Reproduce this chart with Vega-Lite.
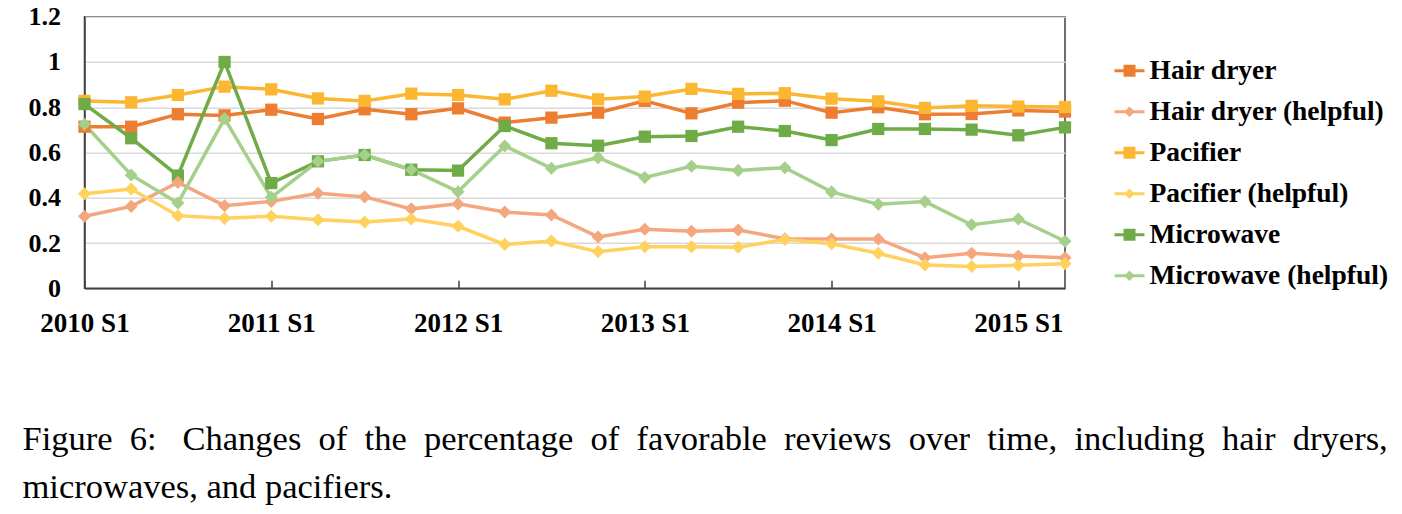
{
  "$schema": "https://vega.github.io/schema/vega-lite/v6.json",
  "width": 980.5,
  "height": 271.6,
  "autosize": "none",
  "padding": {"left": 84.5, "top": 16.7, "right": 337, "bottom": 225.7},
  "background": "white",
  "config": {
    "view": {"stroke": "#404040", "strokeWidth": 1.5},
    "font": "Liberation Serif"
  },
  "title": {
    "text": ["Figure\u00a0 6:\u00a0\u00a0 Changes\u00a0 of\u00a0 the\u00a0 percentage\u00a0 of\u00a0 favorable\u00a0 reviews\u00a0 over\u00a0 time,\u00a0 including\u00a0 hair\u00a0 dryers,", "microwaves, and pacifiers."],
    "orient": "bottom",
    "anchor": "start",
    "frame": "group",
    "font": "Liberation Serif",
    "fontSize": 34.5,
    "fontWeight": "normal",
    "lineHeight": 48,
    "color": "#000",
    "dx": -62,
    "offset": 87
  },
  "resolve": {"legend": {"color": "independent", "shape": "independent"}},
  "data": {"values": [
    {"period":"2010 S1","series":"Hair dryer","value":0.714},
    {"period":"2010 S2","series":"Hair dryer","value":0.714},
    {"period":"2010 S3","series":"Hair dryer","value":0.769},
    {"period":"2010 S4","series":"Hair dryer","value":0.764},
    {"period":"2011 S1","series":"Hair dryer","value":0.789},
    {"period":"2011 S2","series":"Hair dryer","value":0.748},
    {"period":"2011 S3","series":"Hair dryer","value":0.791},
    {"period":"2011 S4","series":"Hair dryer","value":0.769},
    {"period":"2012 S1","series":"Hair dryer","value":0.795},
    {"period":"2012 S2","series":"Hair dryer","value":0.732},
    {"period":"2012 S3","series":"Hair dryer","value":0.754},
    {"period":"2012 S4","series":"Hair dryer","value":0.776},
    {"period":"2013 S1","series":"Hair dryer","value":0.828},
    {"period":"2013 S2","series":"Hair dryer","value":0.773},
    {"period":"2013 S3","series":"Hair dryer","value":0.820},
    {"period":"2013 S4","series":"Hair dryer","value":0.829},
    {"period":"2014 S1","series":"Hair dryer","value":0.776},
    {"period":"2014 S2","series":"Hair dryer","value":0.800},
    {"period":"2014 S3","series":"Hair dryer","value":0.769},
    {"period":"2014 S4","series":"Hair dryer","value":0.770},
    {"period":"2015 S1","series":"Hair dryer","value":0.786},
    {"period":"2015 S2","series":"Hair dryer","value":0.781},
    {"period":"2010 S1","series":"Hair dryer (helpful)","value":0.318},
    {"period":"2010 S2","series":"Hair dryer (helpful)","value":0.362},
    {"period":"2010 S3","series":"Hair dryer (helpful)","value":0.468},
    {"period":"2010 S4","series":"Hair dryer (helpful)","value":0.365},
    {"period":"2011 S1","series":"Hair dryer (helpful)","value":0.384},
    {"period":"2011 S2","series":"Hair dryer (helpful)","value":0.420},
    {"period":"2011 S3","series":"Hair dryer (helpful)","value":0.404},
    {"period":"2011 S4","series":"Hair dryer (helpful)","value":0.351},
    {"period":"2012 S1","series":"Hair dryer (helpful)","value":0.373},
    {"period":"2012 S2","series":"Hair dryer (helpful)","value":0.337},
    {"period":"2012 S3","series":"Hair dryer (helpful)","value":0.324},
    {"period":"2012 S4","series":"Hair dryer (helpful)","value":0.227},
    {"period":"2013 S1","series":"Hair dryer (helpful)","value":0.261},
    {"period":"2013 S2","series":"Hair dryer (helpful)","value":0.252},
    {"period":"2013 S3","series":"Hair dryer (helpful)","value":0.258},
    {"period":"2013 S4","series":"Hair dryer (helpful)","value":0.219},
    {"period":"2014 S1","series":"Hair dryer (helpful)","value":0.218},
    {"period":"2014 S2","series":"Hair dryer (helpful)","value":0.218},
    {"period":"2014 S3","series":"Hair dryer (helpful)","value":0.135},
    {"period":"2014 S4","series":"Hair dryer (helpful)","value":0.155},
    {"period":"2015 S1","series":"Hair dryer (helpful)","value":0.143},
    {"period":"2015 S2","series":"Hair dryer (helpful)","value":0.135},
    {"period":"2010 S1","series":"Pacifier","value":0.828},
    {"period":"2010 S2","series":"Pacifier","value":0.822},
    {"period":"2010 S3","series":"Pacifier","value":0.854},
    {"period":"2010 S4","series":"Pacifier","value":0.891},
    {"period":"2011 S1","series":"Pacifier","value":0.879},
    {"period":"2011 S2","series":"Pacifier","value":0.839},
    {"period":"2011 S3","series":"Pacifier","value":0.828},
    {"period":"2011 S4","series":"Pacifier","value":0.860},
    {"period":"2012 S1","series":"Pacifier","value":0.854},
    {"period":"2012 S2","series":"Pacifier","value":0.835},
    {"period":"2012 S3","series":"Pacifier","value":0.873},
    {"period":"2012 S4","series":"Pacifier","value":0.835},
    {"period":"2013 S1","series":"Pacifier","value":0.847},
    {"period":"2013 S2","series":"Pacifier","value":0.881},
    {"period":"2013 S3","series":"Pacifier","value":0.859},
    {"period":"2013 S4","series":"Pacifier","value":0.862},
    {"period":"2014 S1","series":"Pacifier","value":0.838},
    {"period":"2014 S2","series":"Pacifier","value":0.826},
    {"period":"2014 S3","series":"Pacifier","value":0.797},
    {"period":"2014 S4","series":"Pacifier","value":0.806},
    {"period":"2015 S1","series":"Pacifier","value":0.803},
    {"period":"2015 S2","series":"Pacifier","value":0.801},
    {"period":"2010 S1","series":"Pacifier (helpful)","value":0.418},
    {"period":"2010 S2","series":"Pacifier (helpful)","value":0.439},
    {"period":"2010 S3","series":"Pacifier (helpful)","value":0.321},
    {"period":"2010 S4","series":"Pacifier (helpful)","value":0.309},
    {"period":"2011 S1","series":"Pacifier (helpful)","value":0.318},
    {"period":"2011 S2","series":"Pacifier (helpful)","value":0.303},
    {"period":"2011 S3","series":"Pacifier (helpful)","value":0.293},
    {"period":"2011 S4","series":"Pacifier (helpful)","value":0.306},
    {"period":"2012 S1","series":"Pacifier (helpful)","value":0.274},
    {"period":"2012 S2","series":"Pacifier (helpful)","value":0.194},
    {"period":"2012 S3","series":"Pacifier (helpful)","value":0.209},
    {"period":"2012 S4","series":"Pacifier (helpful)","value":0.162},
    {"period":"2013 S1","series":"Pacifier (helpful)","value":0.184},
    {"period":"2013 S2","series":"Pacifier (helpful)","value":0.184},
    {"period":"2013 S3","series":"Pacifier (helpful)","value":0.181},
    {"period":"2013 S4","series":"Pacifier (helpful)","value":0.216},
    {"period":"2014 S1","series":"Pacifier (helpful)","value":0.197},
    {"period":"2014 S2","series":"Pacifier (helpful)","value":0.155},
    {"period":"2014 S3","series":"Pacifier (helpful)","value":0.103},
    {"period":"2014 S4","series":"Pacifier (helpful)","value":0.096},
    {"period":"2015 S1","series":"Pacifier (helpful)","value":0.102},
    {"period":"2015 S2","series":"Pacifier (helpful)","value":0.109},
    {"period":"2010 S1","series":"Microwave","value":0.814},
    {"period":"2010 S2","series":"Microwave","value":0.663},
    {"period":"2010 S3","series":"Microwave","value":0.498},
    {"period":"2010 S4","series":"Microwave","value":1.0},
    {"period":"2011 S1","series":"Microwave","value":0.465},
    {"period":"2011 S2","series":"Microwave","value":0.561},
    {"period":"2011 S3","series":"Microwave","value":0.589},
    {"period":"2011 S4","series":"Microwave","value":0.524},
    {"period":"2012 S1","series":"Microwave","value":0.520},
    {"period":"2012 S2","series":"Microwave","value":0.717},
    {"period":"2012 S3","series":"Microwave","value":0.641},
    {"period":"2012 S4","series":"Microwave","value":0.630},
    {"period":"2013 S1","series":"Microwave","value":0.670},
    {"period":"2013 S2","series":"Microwave","value":0.673},
    {"period":"2013 S3","series":"Microwave","value":0.714},
    {"period":"2013 S4","series":"Microwave","value":0.695},
    {"period":"2014 S1","series":"Microwave","value":0.655},
    {"period":"2014 S2","series":"Microwave","value":0.704},
    {"period":"2014 S3","series":"Microwave","value":0.704},
    {"period":"2014 S4","series":"Microwave","value":0.701},
    {"period":"2015 S1","series":"Microwave","value":0.676},
    {"period":"2015 S2","series":"Microwave","value":0.711},
    {"period":"2010 S1","series":"Microwave (helpful)","value":0.725},
    {"period":"2010 S2","series":"Microwave (helpful)","value":0.501},
    {"period":"2010 S3","series":"Microwave (helpful)","value":0.377},
    {"period":"2010 S4","series":"Microwave (helpful)","value":0.750},
    {"period":"2011 S1","series":"Microwave (helpful)","value":0.402},
    {"period":"2011 S2","series":"Microwave (helpful)","value":0.561},
    {"period":"2011 S3","series":"Microwave (helpful)","value":0.589},
    {"period":"2011 S4","series":"Microwave (helpful)","value":0.524},
    {"period":"2012 S1","series":"Microwave (helpful)","value":0.427},
    {"period":"2012 S2","series":"Microwave (helpful)","value":0.629},
    {"period":"2012 S3","series":"Microwave (helpful)","value":0.530},
    {"period":"2012 S4","series":"Microwave (helpful)","value":0.577},
    {"period":"2013 S1","series":"Microwave (helpful)","value":0.490},
    {"period":"2013 S2","series":"Microwave (helpful)","value":0.539},
    {"period":"2013 S3","series":"Microwave (helpful)","value":0.521},
    {"period":"2013 S4","series":"Microwave (helpful)","value":0.533},
    {"period":"2014 S1","series":"Microwave (helpful)","value":0.426},
    {"period":"2014 S2","series":"Microwave (helpful)","value":0.371},
    {"period":"2014 S3","series":"Microwave (helpful)","value":0.383},
    {"period":"2014 S4","series":"Microwave (helpful)","value":0.281},
    {"period":"2015 S1","series":"Microwave (helpful)","value":0.306},
    {"period":"2015 S2","series":"Microwave (helpful)","value":0.208}
  ]},
  "encoding": {
    "x": {
      "field": "period", "type": "ordinal",
      "sort": ["2010 S1","2010 S2","2010 S3","2010 S4","2011 S1","2011 S2","2011 S3","2011 S4","2012 S1","2012 S2","2012 S3","2012 S4","2013 S1","2013 S2","2013 S3","2013 S4","2014 S1","2014 S2","2014 S3","2014 S4","2015 S1","2015 S2"],
      "scale": {"type": "point", "padding": 0},
      "axis": {
        "title": null,
        "values": ["2010 S1","2011 S1","2012 S1","2013 S1","2014 S1","2015 S1"],
        "labelAngle": 0,
        "labelOverlap": false,
        "labelFont": "Liberation Serif",
        "labelFontSize": 27,
        "labelFontWeight": "bold",
        "labelColor": "#000",
        "labelPadding": 30,
        "tickSize": -8,
        "tickColor": "#404040",
        "tickWidth": 1.5,
        "domainColor": "#404040",
        "domainWidth": 1.5,
        "grid": false
      }
    },
    "y": {
      "field": "value", "type": "quantitative",
      "scale": {"domain": [0, 1.2], "nice": false, "zero": true},
      "axis": {
        "title": null,
        "values": [0, 0.2, 0.4, 0.6, 0.8, 1, 1.2],
        "format": "~g",
        "ticks": false,
        "grid": true,
        "gridColor": "#d9d9d9",
        "gridWidth": 1.5,
        "domainColor": "#404040",
        "domainWidth": 1.5,
        "labelFont": "Liberation Serif",
        "labelFontSize": 26,
        "labelFontWeight": "bold",
        "labelColor": "#000",
        "labelPadding": 24
      }
    }
  },
  "layer": [
    {
      "mark": {"type": "line", "strokeWidth": 3.5},
      "encoding": {
        "color": {
          "field": "series", "type": "nominal",
          "scale": {
            "domain": ["Hair dryer","Hair dryer (helpful)","Pacifier","Pacifier (helpful)","Microwave","Microwave (helpful)"],
            "range": ["#ED7D31","#F4A77E","#FBB731","#FFD15E","#6FAB47","#A5D08B"]
          },
          "legend": null
        }
      }
    },
    {
      "transform": [{"filter": {"field": "series", "oneOf": ["Hair dryer","Pacifier","Microwave"]}}],
      "mark": {"type": "point", "shape": "square", "filled": true, "size": 150, "opacity": 1},
      "encoding": {"color": {"field": "series", "type": "nominal", "legend": null}}
    },
    {
      "transform": [{"filter": {"field": "series", "oneOf": ["Hair dryer (helpful)","Pacifier (helpful)","Microwave (helpful)"]}}],
      "mark": {"type": "point", "shape": "diamond", "filled": true, "size": 170, "opacity": 1},
      "encoding": {"color": {"field": "series", "type": "nominal", "legend": null}}
    },
    {
      "mark": {"type": "point", "filled": true, "opacity": 0},
      "encoding": {
        "shape": {
          "field": "series", "type": "nominal",
          "scale": {
            "domain": ["Hair dryer","Hair dryer (helpful)","Pacifier","Pacifier (helpful)","Microwave","Microwave (helpful)"],
            "range": [
              "M-1,-0.1H-0.4V-0.4H0.4V-0.1H1V0.1H0.4V0.4H-0.4V0.1H-1Z",
              "M-1,-0.1H-0.25L0,-0.35L0.25,-0.1H1V0.1H0.25L0,0.35L-0.25,0.1H-1Z",
              "M-1,-0.1H-0.4V-0.4H0.4V-0.1H1V0.1H0.4V0.4H-0.4V0.1H-1Z",
              "M-1,-0.1H-0.25L0,-0.35L0.25,-0.1H1V0.1H0.25L0,0.35L-0.25,0.1H-1Z",
              "M-1,-0.1H-0.4V-0.4H0.4V-0.1H1V0.1H0.4V0.4H-0.4V0.1H-1Z",
              "M-1,-0.1H-0.25L0,-0.35L0.25,-0.1H1V0.1H0.25L0,0.35L-0.25,0.1H-1Z"
            ]
          },
          "legend": {
            "orient": "none",
            "legendX": 1030,
            "legendY": 39,
            "title": null,
            "labelFont": "Liberation Serif",
            "labelFontSize": 27.5,
            "labelFontWeight": "bold",
            "labelColor": "#000",
            "labelLimit": 400,
            "labelOffset": 5,
            "symbolSize": 900,
            "symbolOpacity": 1,
            "symbolStrokeWidth": 0,
            "rowPadding": 12,
            "padding": 0,
            "encoding": {
              "symbols": {
                "fill": {
                  "condition": [
                    {"test": "datum.value === 'Hair dryer'", "value": "#ED7D31"},
                    {"test": "datum.value === 'Hair dryer (helpful)'", "value": "#F4A77E"},
                    {"test": "datum.value === 'Pacifier'", "value": "#FBB731"},
                    {"test": "datum.value === 'Pacifier (helpful)'", "value": "#FFD15E"},
                    {"test": "datum.value === 'Microwave'", "value": "#6FAB47"}
                  ],
                  "value": "#A5D08B"
                },
                "opacity": {"value": 1},
                "strokeWidth": {"value": 0}
              }
            }
          }
        }
      }
    }
  ]
}
